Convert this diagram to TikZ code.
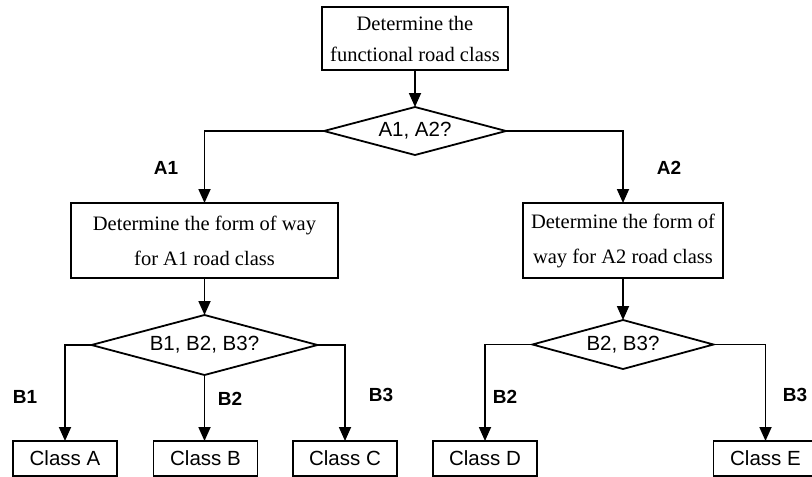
\documentclass[tikz,border=0pt]{standalone}
\usepackage{fontspec}
\setmainfont{Liberation Serif}
\setsansfont{Liberation Sans}
\usetikzlibrary{shapes.geometric,arrows.meta}
\tikzset{
  lw/.style={line width=1.8pt},
  procbox/.style={draw, lw, rectangle, inner sep=0pt, outer sep=0pt, align=center,
    font=\fontsize{20.5}{35}\selectfont},
  classbox/.style={draw, lw, rectangle, inner sep=0pt, outer sep=0pt,
    minimum width=104pt, minimum height=35pt, font=\sffamily\fontsize{20.5}{24}\selectfont},
  decision/.style={draw, lw, diamond, inner sep=0pt, outer sep=0pt, aspect=3.7,
    font=\sffamily\fontsize{20.5}{24}\selectfont},
  branchlabel/.style={inner sep=0pt, font=\sffamily\bfseries\fontsize{19}{22}\selectfont},
  arr/.style={lw, -{Triangle[width=12pt,length=14pt]}},
  conn/.style={lw}
}
\begin{document}
\begin{tikzpicture}[x=1pt,y=-1pt]
\useasboundingbox (0,0) rectangle (812,477);
\clip (0,0) rectangle (812,477);
\fill[white] (0,0) rectangle (812,477);

% process boxes
\node[procbox, minimum width=186pt, minimum height=63pt, font=\fontsize{20.5}{31}\selectfont] (top) at (415,38.5) {Determine the\\functional road class};
\node[procbox, minimum width=267pt, minimum height=75pt] (pa) at (204.5,240.5) {Determine the form of way\\for A1 road class};
\node[procbox, minimum width=200pt, minimum height=75pt] (pb) at (623,240.5) {Determine the form of\\way for A2 road class};

% decisions
\node[decision, minimum width=182pt, minimum height=48pt] (da) at (415,131) {A1, A2?};
\node[decision, minimum width=226pt, minimum height=60pt] (db) at (204.5,345) {B1, B2, B3?};
\node[decision, minimum width=181pt, minimum height=49pt] (dc) at (623,344.5) {B2, B3?};

% class boxes
\node[classbox] (ca) at (65,458.5) {Class A};
\node[classbox] (cb) at (205.5,458.5) {Class B};
\node[classbox] (cc) at (345,458.5) {Class C};
\node[classbox] (cd) at (485,458.5) {Class D};
\node[classbox] (ce) at (765.5,458.5) {Class E};

% connectors
\draw[arr] (top.south) -- (da.north);
\draw[arr] (da.west) -| (pa.north);
\draw[arr] (da.east) -| (pb.north);
\draw[arr] (pa.south) -- (db.north);
\draw[arr] (pb.south) -- (dc.north);
\draw[arr] (db.west) -| (ca.north);
\draw[arr] (db.south) -- (db.south |- cb.north);
\draw[arr] (db.east) -| (cc.north);
\draw[arr] (dc.west) -| (cd.north);
\draw[arr] (dc.east) -| (ce.north);

% branch labels
\node[branchlabel] (la1) at (166,167.5) {A1};
\node[branchlabel] (la2) at (669,167.5) {A2};
\node[branchlabel] (lb1) at (25,397) {B1};
\node[branchlabel] (lb2) at (230,398.5) {B2};
\node[branchlabel] (lb3) at (381,394.5) {B3};
\node[branchlabel] (lb2r) at (505,397) {B2};
\node[branchlabel] (lb3r) at (795,395) {B3};
\end{tikzpicture}
\end{document}
